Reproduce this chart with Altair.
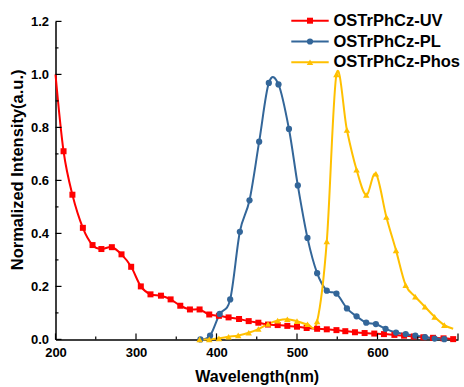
import altair as alt
import pandas as pd

series_names = ["OSTrPhCz-UV", "OSTrPhCz-PL", "OSTrPhCz-Phos"]
colors = ["#FF0000", "#336699", "#FFC000"]
shapes = ["square", "circle", "triangle-up"]
marker_sizes = [36, 42, 64]

uv_wl = [200, 210, 221, 234, 246, 257, 270, 282, 294, 306, 318, 331, 343, 355, 367, 379, 391, 403, 415, 428,
         440, 452, 464, 476, 488, 500, 512, 525, 537, 549, 560, 572, 584, 596, 608, 621, 633, 645, 657, 669,
         682, 694]
uv_val = [1.0, 0.71, 0.546, 0.421, 0.356, 0.341, 0.348, 0.321, 0.274, 0.200, 0.170, 0.165, 0.151, 0.127, 0.113,
          0.113, 0.094, 0.089, 0.083, 0.077, 0.069, 0.063, 0.056, 0.054, 0.051, 0.048, 0.043, 0.040, 0.038, 0.035,
          0.031, 0.027, 0.024, 0.022, 0.020, 0.017, 0.014, 0.011, 0.008, 0.006, 0.004, 0.001]

pl_wl = [380, 392, 404, 417, 429, 441, 453, 465, 477, 490, 501, 513, 525, 537, 549, 562, 574, 586, 598, 610,
         623, 635, 647, 659, 671, 683]
pl_val = [0.0, 0.014, 0.096, 0.151, 0.406, 0.525, 0.746, 0.968, 0.962, 0.794, 0.581, 0.383, 0.250, 0.184, 0.173,
          0.117, 0.087, 0.063, 0.058, 0.040, 0.026, 0.020, 0.014, 0.009, 0.003, 0.001]

ph_wl = [379, 391, 403, 415, 427, 440, 452, 464, 476, 488, 500, 513, 525, 537, 549, 562, 574, 586, 598, 611,
         623, 635, 647, 659, 671, 683, 694]
ph_val = [0.0, 0.0, 0.004, 0.010, 0.015, 0.025, 0.039, 0.058, 0.071, 0.076, 0.069, 0.057, 0.068, 0.370, 1.0,
          0.790, 0.640, 0.545, 0.625, 0.462, 0.336, 0.205, 0.161, 0.123, 0.085, 0.054, 0.040]

x_labels = [200, 300, 400, 500, 600]
x_major = [200, 300, 400, 500, 600, 700]
x_minor = [250, 350, 450, 550, 650]
y_major = [0.0, 0.2, 0.4, 0.6, 0.8, 1.0, 1.2]
y_minor = [0.1, 0.3, 0.5, 0.7, 0.9, 1.1]

rows = []
for name, wls, vals in zip(series_names, [uv_wl, pl_wl, ph_wl], [uv_val, pl_val, ph_val]):
    for w, v in zip(wls, vals):
        rows.append({"series": name, "wl": w, "val": v})
df = pd.DataFrame(rows)

W, H = 402.5, 318
FONT = "Liberation Sans"

color_scale = alt.Scale(domain=series_names, range=colors)
shape_scale = alt.Scale(domain=series_names, range=shapes)
size_scale = alt.Scale(domain=series_names, range=marker_sizes)

x_enc = alt.X(
    "wl:Q",
    scale=alt.Scale(domain=[200, 700], nice=False, zero=False),
    axis=alt.Axis(
        values=x_labels, ticks=False, grid=False, domainColor="black", domainWidth=1.5,
        labelFont=FONT, labelFontSize=13, labelFontWeight="bold", labelColor="black", labelPadding=7,
        labelFlush=False, labelOverlap=False,
        title="Wavelength(nm)", titleFont=FONT, titleFontSize=16, titleFontWeight="bold",
        titleColor="black", titleY=42, titleBaseline="alphabetic",
    ),
)
y_enc = alt.Y(
    "val:Q",
    scale=alt.Scale(domain=[0, 1.2], nice=False, zero=False),
    axis=alt.Axis(
        values=y_major, format=".1f", ticks=False, grid=False, domainColor="black", domainWidth=1.5,
        labelFont=FONT, labelFontSize=13, labelFontWeight="bold", labelColor="black", labelPadding=7,
        labelFlush=False, labelOverlap=False,
        title="Normalized Intensity(a.u.)", titleFont=FONT, titleFontSize=16.5, titleFontWeight="bold",
        titleColor="black", titleX=-38, titleY=148, titleAngle=270, titleAlign="center",
        titleBaseline="middle",
    ),
)

lines = alt.Chart(df).mark_line(interpolate="cardinal", strokeWidth=2).encode(
    x=x_enc, y=y_enc,
    color=alt.Color("series:N", scale=color_scale, legend=None),
)

points = alt.Chart(df).transform_filter(
    "!(datum.series == 'OSTrPhCz-UV' && datum.wl <= 200) && !(datum.series == 'OSTrPhCz-Phos' && datum.wl > 690)"
).mark_point(filled=True, opacity=1).encode(
    x="wl:Q", y="val:Q",
    color=alt.Color("series:N", scale=color_scale, legend=None),
    shape=alt.Shape("series:N", scale=shape_scale, legend=None),
    size=alt.Size("series:N", scale=size_scale, legend=None),
)

xt_major = alt.Chart(pd.DataFrame({"wl": x_major})).mark_rule(color="black", strokeWidth=1.2).encode(
    x="wl:Q", y=alt.value(H), y2=alt.value(H - 6))
xt_minor = alt.Chart(pd.DataFrame({"wl": x_minor})).mark_rule(color="black", strokeWidth=1.2).encode(
    x="wl:Q", y=alt.value(H), y2=alt.value(H - 3))
yt_major = alt.Chart(pd.DataFrame({"val": y_major})).mark_rule(color="black", strokeWidth=1.2).encode(
    y="val:Q", x=alt.value(0), x2=alt.value(6))
yt_minor = alt.Chart(pd.DataFrame({"val": y_minor})).mark_rule(color="black", strokeWidth=1.2).encode(
    y="val:Q", x=alt.value(0), x2=alt.value(3))

leg_df = pd.DataFrame({"series": series_names, "idx": list(range(len(series_names)))})
leg_base = alt.Chart(leg_df).transform_calculate(ly="-0.7 + datum.idx * 20.8")
leg_y = alt.Y("ly:Q", scale=None, axis=None)
leg_rule = leg_base.mark_rule(strokeWidth=2).encode(
    x=alt.value(235.8), x2=alt.value(273.2), y=leg_y,
    color=alt.Color("series:N", scale=color_scale, legend=None))
leg_pts = leg_base.mark_point(filled=True, opacity=1).encode(
    x=alt.value(254.5), y=leg_y,
    color=alt.Color("series:N", scale=color_scale, legend=None),
    shape=alt.Shape("series:N", scale=shape_scale, legend=None),
    size=alt.Size("series:N", scale=size_scale, legend=None))
leg_txt = leg_base.mark_text(align="left", baseline="middle", font=FONT, fontSize=16.5,
                             fontWeight="bold", color="black").encode(
    x=alt.value(278), y=leg_y, text="series:N")

chart = alt.layer(
    lines, points, xt_major, xt_minor, yt_major, yt_minor, leg_rule, leg_pts, leg_txt
).properties(
    width=W, height=H,
    autosize=alt.AutoSizeParams(type="none"),
    padding={"left": 55.5, "top": 21.4, "right": 6, "bottom": 47.6},
).configure_view(stroke=None)

chart.save("out.html", embed_options={"renderer": "svg", "actions": False})
